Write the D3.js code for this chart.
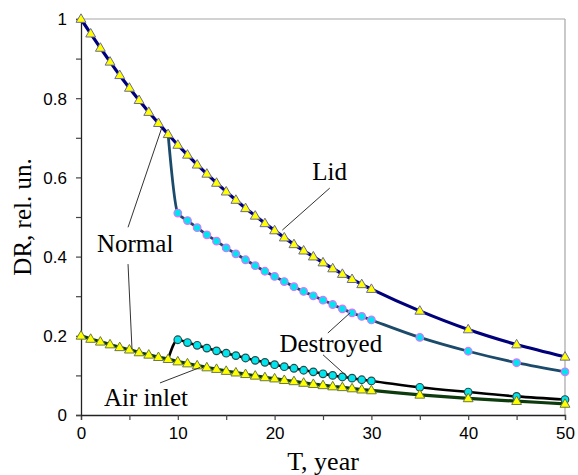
<!DOCTYPE html>
<html>
<head>
<meta charset="utf-8">
<script src="https://cdn.jsdelivr.net/npm/d3@7/dist/d3.min.js"></script>
<style>
  html, body { margin: 0; padding: 0; background: #fff; }
  svg { display: block; }
</style>
</head>
<body>
<svg id="chart" width="578" height="475"></svg>
<script>
// ---------- data ----------
const lidYears = [0,1,2,3,4,5,6,7,8,9,10,11,12,13,14,15,16,17,18,19,20,21,22,23,24,25,26,27,28,29,30,35,40,45,50];
const lidValues = [1.000,0.963,0.927,0.892,0.858,0.826,0.795,0.765,0.737,0.709,0.682,0.657,0.632,0.609,0.586,0.564,0.543,0.522,0.503,0.484,0.466,0.448,0.431,0.415,0.400,0.385,0.370,0.356,0.343,0.330,0.318,0.263,0.216,0.178,0.147];

const normalYears = [9,10,11,12,13,14,15,16,17,18,19,20,21,22,23,24,25,26,27,28,29,30,35,40,45,50];
const normalValues = [0.709,0.510,0.491,0.473,0.455,0.439,0.422,0.407,0.392,0.377,0.363,0.350,0.337,0.324,0.312,0.301,0.290,0.279,0.268,0.258,0.249,0.240,0.196,0.161,0.132,0.109];

const airYears = [0,1,2,3,4,5,6,7,8,9,10,11,12,13,14,15,16,17,18,19,20,21,22,23,24,25,26,27,28,29,30,35,40,45,50];
const airValues = [0.200,0.192,0.185,0.178,0.171,0.165,0.158,0.152,0.146,0.141,0.135,0.130,0.125,0.120,0.116,0.111,0.107,0.103,0.099,0.095,0.092,0.088,0.085,0.081,0.078,0.075,0.072,0.070,0.067,0.064,0.062,0.051,0.042,0.035,0.028];

const destroyedYears = [9,10,11,12,13,14,15,16,17,18,19,20,21,22,23,24,25,26,27,28,29,30,35,40,45,50];
const destroyedValues = [0.141,0.190,0.183,0.176,0.169,0.162,0.156,0.150,0.144,0.138,0.133,0.127,0.122,0.118,0.113,0.109,0.104,0.100,0.096,0.093,0.089,0.086,0.070,0.058,0.047,0.039];

const xTickLabels = [0,10,20,30,40,50];
const yTickLabels = [0,0.2,0.4,0.6,0.8,1];

// labels and leader lines in data units
const seriesLabels = [
  {text: "Lid", t: 23.9, v: 0.593},
  {text: "Normal", t: 1.65, v: 0.412},
  {text: "Destroyed", t: 20.5, v: 0.159},
  {text: "Air inlet", t: 2.38, v: 0.023}
];
const leaderLines = [
  {t1: 25.7, v1: 0.573, t2: 20.8, v2: 0.467},
  {t1: 8.37, v1: 0.727, t2: 4.86, v2: 0.474},
  {t1: 4.86, v1: 0.381, t2: 5.27, v2: 0.166},
  {t1: 25.5, v1: 0.207, t2: 27.8, v2: 0.258},
  {t1: 25.0, v1: 0.152, t2: 27.5, v2: 0.097},
  {t1: 8.16, v1: 0.081, t2: 12.3, v2: 0.120}
];
const jumpYear = 10;

// ---------- layout ----------
const svg = d3.select("#chart");
const mLeft = 81, mRight = 565, mTop = 19, mBottom = 415;
const x = d3.scaleLinear().domain([0, 50]).range([mLeft, mRight]);
const y = d3.scaleLinear().domain([0, 1]).range([mBottom, mTop]);

const serif = "'Liberation Serif','Times New Roman',serif";
const sans = "'Liberation Sans',Arial,sans-serif";

// frame (top and right in grey)
svg.append("line").attr("x1", mLeft).attr("x2", mRight).attr("y1", mTop).attr("y2", mTop)
  .attr("stroke", "#a6a6a6").attr("stroke-width", 1.2);
svg.append("line").attr("x1", mRight).attr("x2", mRight).attr("y1", mTop).attr("y2", mBottom)
  .attr("stroke", "#a6a6a6").attr("stroke-width", 1.2);

// axes
const xAxis = d3.axisBottom(x).tickValues(d3.range(0, 51, 5)).tickSize(5)
  .tickFormat(d => xTickLabels.includes(d) ? d : "");
const yAxis = d3.axisLeft(y).tickValues(d3.range(0, 11).map(i => i / 10)).tickSize(5)
  .tickFormat(d => { const m = yTickLabels.find(v => Math.abs(v - d) < 1e-9); return m === undefined ? "" : String(m); });

const gx = svg.append("g").attr("transform", `translate(0,${mBottom})`).call(xAxis);
const gy = svg.append("g").attr("transform", `translate(${mLeft},0)`).call(yAxis);
[gx, gy].forEach(g => {
  g.select(".domain").attr("stroke", "#222").attr("stroke-width", 1.3);
  g.selectAll(".tick line").attr("stroke", "#444").attr("stroke-width", 1.2);
  g.selectAll(".tick text").attr("font-family", sans).attr("font-size", 17).attr("fill", "#000");
});
gx.selectAll(".tick text").attr("dy", "1.05em").attr("y", 6);
gy.selectAll(".tick text").attr("x", -14).attr("dy", "0.35em");

// axis titles
svg.append("text").attr("x", x(25)).attr("y", 470).attr("text-anchor", "middle")
  .attr("font-family", serif).attr("font-size", 26).text("T, year");
svg.append("text").attr("transform", `translate(31,${(mTop + mBottom) / 2}) rotate(-90)`)
  .attr("text-anchor", "middle").attr("font-family", serif).attr("font-size", 25).text("DR, rel. un.");

// lines
const line = d3.line().x(d => x(d[0])).y(d => y(d[1])).curve(d3.curveMonotoneX);
const zip = (a, b) => a.map((t, i) => [t, b[i]]);
const lid = zip(lidYears, lidValues);
const normal = zip(normalYears, normalValues);
const air = zip(airYears, airValues);
const destroyed = zip(destroyedYears, destroyedValues);

svg.append("path").datum(normal).attr("d", line).attr("fill", "none").attr("stroke", "#1b4a6b").attr("stroke-width", 2.8);
svg.append("path").datum(lid).attr("d", line).attr("fill", "none").attr("stroke", "#00007a").attr("stroke-width", 3.2);
svg.append("path").datum(destroyed).attr("d", line).attr("fill", "none").attr("stroke", "#000").attr("stroke-width", 2.6);
svg.append("path").datum(air).attr("d", line).attr("fill", "none").attr("stroke", "#0d3b0d").attr("stroke-width", 3.2);

// markers
const tri = d3.symbol().type(d3.symbolTriangle).size(42);
function triangles(data, stroke) {
  svg.append("g").selectAll("path").data(data).join("path")
    .attr("d", tri).attr("transform", d => `translate(${x(d[0])},${y(d[1]) + 0.5})`)
    .attr("fill", "#ffff00").attr("stroke", stroke).attr("stroke-width", 1);
}
function circles(data, stroke) {
  svg.append("g").selectAll("circle").data(data).join("circle")
    .attr("cx", d => x(d[0])).attr("cy", d => y(d[1])).attr("r", 3.8)
    .attr("fill", "#00e5ee").attr("stroke", stroke).attr("stroke-width", 1.2);
}
circles(normal.filter(d => d[0] >= jumpYear), "#e070ff");
triangles(lid, "#6b6b9a");
circles(destroyed.filter(d => d[0] >= jumpYear), "#2a4a4a");
triangles(air, "#6b7a40");

// leader lines
svg.append("g").selectAll("line").data(leaderLines).join("line")
  .attr("x1", d => x(d.t1)).attr("y1", d => y(d.v1))
  .attr("x2", d => x(d.t2)).attr("y2", d => y(d.v2))
  .attr("stroke", "#333").attr("stroke-width", 1);

// series labels
svg.append("g").selectAll("text").data(seriesLabels).join("text")
  .attr("x", d => x(d.t)).attr("y", d => y(d.v))
  .attr("font-family", serif).attr("font-size", 25).attr("fill", "#000")
  .text(d => d.text);
</script>
</body>
</html>
